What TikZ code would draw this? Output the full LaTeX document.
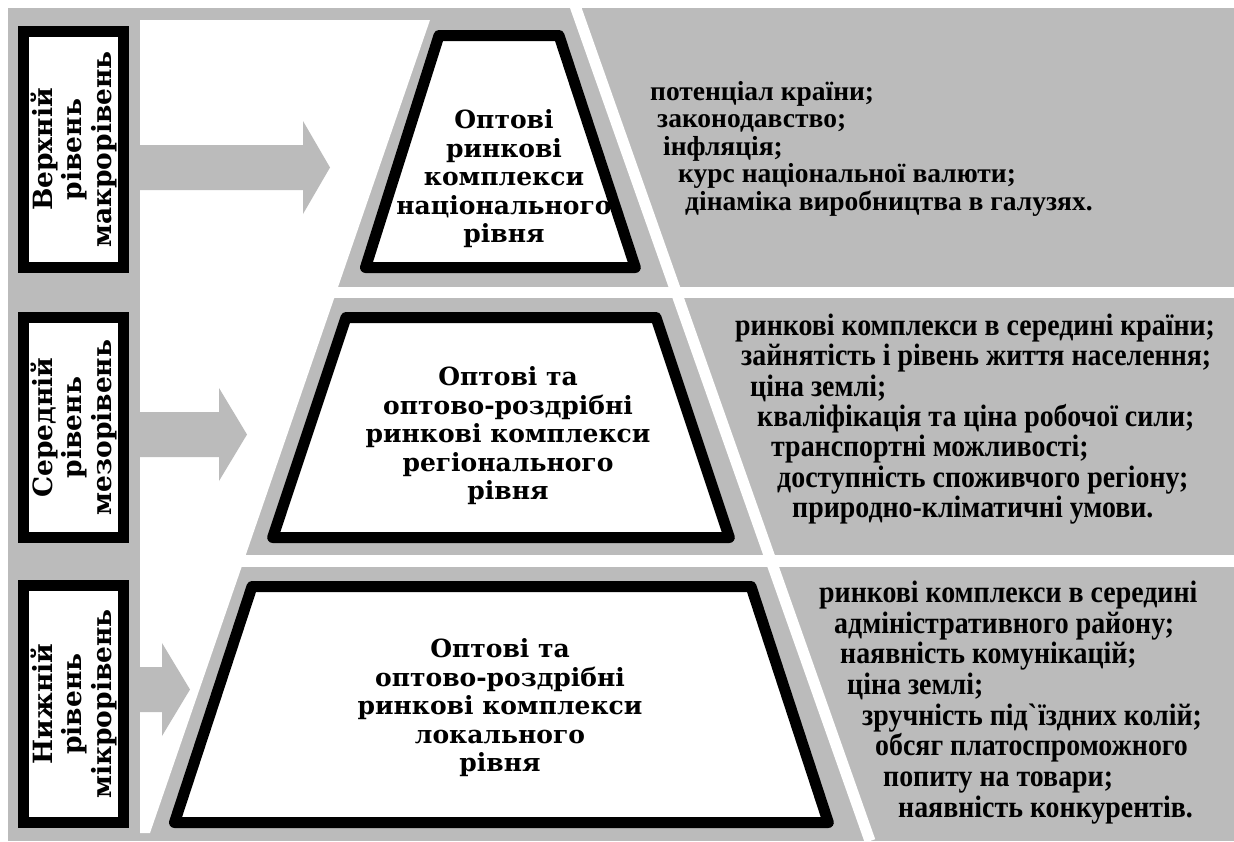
\documentclass[tikz,border=0pt]{standalone}
\usepackage{fontspec}
\setmainfont{Liberation Serif}
\newfontfamily\capfont{DejaVu Serif}
\newfontfamily\factfont{Liberation Serif}[FakeStretch=0.9]

\definecolor{slab}{RGB}{187,187,187}

\tikzset{
  levelbox/.style={draw=black, line width=11pt, fill=white, rotate=90, minimum height=100pt,
    inner sep=0pt, align=center, font=\capfont\bfseries\fontsize{26.5}{29.5}\selectfont},
  trapline/.style={draw=black, line width=11pt, fill=white, line join=round},
  traptext/.style={align=center, inner sep=0pt, font=\capfont\bfseries\fontsize{25}{28.5}\selectfont},
  factor/.style={anchor=base west, inner sep=0pt, font=\factfont\bfseries\fontsize{31}{30}\selectfont},
  topfactor/.style={factor, font=\bfseries\fontsize{27.5}{27}\selectfont},
}

\begin{document}
\begin{tikzpicture}[x=1pt,y=-1pt]
\useasboundingbox (0,0) rectangle (1234,841);

% grey ground, white cut-outs
\fill[slab] (8,8) rectangle (1234,841);
\fill[white] (140,20) -- (430,20) -- (150,833) -- (140,833) -- cycle;
\fill[white] (300,287) rectangle (1234,298);
\fill[white] (200,555) rectangle (1234,567);
\draw[white, line width=11pt] (573,0) -- (870,841);

% block arrows
\foreach \ym/\xb/\xt in {167.5/303/330, 434.5/219/247, 689.5/162/190}
  \fill[slab] (140,\ym-22.5) -- (\xb,\ym-22.5) -- (\xb,\ym-46.5) -- (\xt,\ym)
    -- (\xb,\ym+46.5) -- (\xb,\ym+22.5) -- (140,\ym+22.5) -- cycle;

% levels
\node[levelbox, minimum width=236pt] (upper) at (73.5,149.5) {Верхній\\рівень\\макрорівень};
\node[levelbox, minimum width=220pt] (middle) at (73.5,427.5) {Середній\\рівень\\мезорівень};
\node[levelbox, minimum width=237pt] (lower) at (73.5,704) {Нижній\\рівень\\мікрорівень};

% trapezia
\draw[trapline] (439,35.5) -- (559,35.5) -- (635.3,267.5) -- (365.5,267.5) -- cycle;
\draw[trapline] (346,317.5) -- (656,317.5) -- (729.3,537.5) -- (272.7,537.5) -- cycle;
\draw[trapline] (252,586.5) -- (751,586.5) -- (828.3,822.5) -- (174.5,822.5) -- cycle;

\node[traptext] (nat) at (504,179) {Оптові\\ринкові\\комплекси\\національного\\рівня};
\node[traptext] (reg) at (508,436) {Оптові та\\оптово-роздрібні\\ринкові комплекси\\регіонального\\рівня};
\node[traptext] (loc) at (500,708) {Оптові та\\оптово-роздрібні\\ринкові комплекси\\локального\\рівня};

% factors
\foreach \x/\y/\t [count=\i] in {650/100/потенціал країни;, 657/127.5/законодавство;,
    663/155/інфляція;, 678/182.5/курс національної валюти;, 685/210/дінаміка виробництва в галузях.}
  \node[topfactor] (nf\i) at (\x,\y) {\t};

\foreach \x/\y/\t [count=\i] in {735/335/ринкові комплекси в середині країни;,
    741/365/зайнятість і рівень життя населення;, 750/396/ціна землі;,
    757/426/кваліфікація та ціна робочої сили;, 771/456/транспортні можливості;,
    777/487/доступність споживчого регіону;, 792/517/природно-кліматичні умови.}
  \node[factor] (rf\i) at (\x,\y) {\t};

\foreach \x/\y/\t [count=\i] in {819/602/ринкові комплекси в середині,
    834/633/адміністративного району;, 840/663/наявність комунікацій;, 847/694/ціна землі;,
    862/725/зручність під\textasciigrave їздних колій;, 875/755/обсяг платоспроможного,
    883/786/попиту на товари;, 898/817/наявність конкурентів.}
  \node[factor] (lf\i) at (\x,\y) {\t};

\end{tikzpicture}
\end{document}
